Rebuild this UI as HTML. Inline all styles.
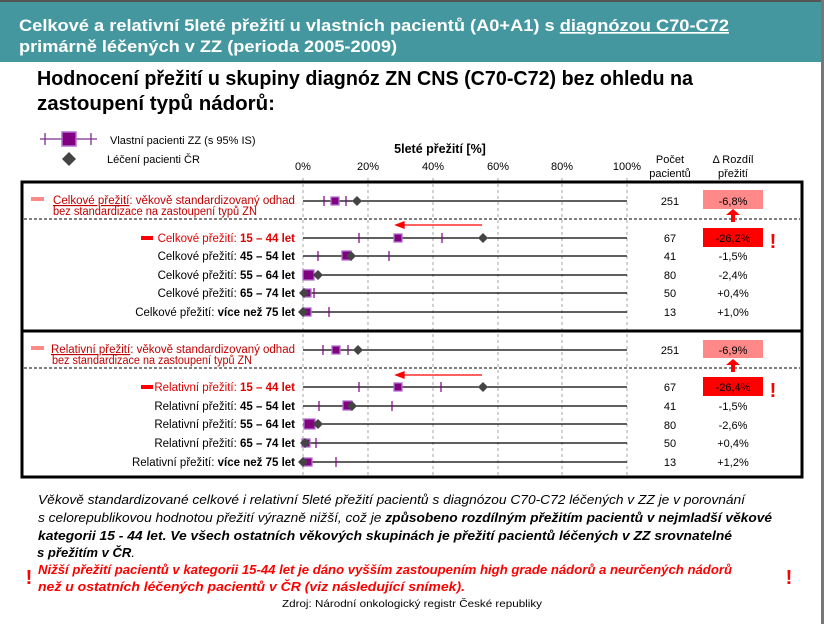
<!DOCTYPE html>
<html><head><meta charset="utf-8"><style>
body{margin:0;background:#fff}
svg{display:block;font-family:"Liberation Sans",sans-serif}
</style></head><body>
<svg width="824" height="624" viewBox="0 0 824 624" xmlns="http://www.w3.org/2000/svg">
<rect x="0" y="0" width="824" height="624" fill="#fff"/>
<rect x="0" y="0" width="824" height="2" fill="#555"/>
<rect x="821" y="0" width="3" height="624" fill="#777"/>
<rect x="0" y="2" width="821" height="60" fill="#45979f"/>
<g fill="#fff" font-weight="bold" font-size="17">
<text x="19" y="31" textLength="710" lengthAdjust="spacingAndGlyphs">Celkové a relativní 5leté přežití u vlastních pacientů (A0+A1) s <tspan text-decoration="underline">diagnózou C70-C72</tspan></text>
<text x="19" y="52" textLength="378" lengthAdjust="spacingAndGlyphs">primárně léčených v ZZ (perioda 2005-2009)</text>
</g>
<g fill="#000" font-weight="bold" font-size="20">
<text x="37" y="85" textLength="656" lengthAdjust="spacingAndGlyphs">Hodnocení přežití u skupiny diagnóz  ZN CNS (C70-C72) bez ohledu na</text>
<text x="37" y="110" textLength="238" lengthAdjust="spacingAndGlyphs">zastoupení typů nádorů:</text>
</g>
<line x1="40" y1="139" x2="97" y2="139" stroke="#7b2d8e" stroke-width="1.3"/>
<line x1="45" y1="133" x2="45" y2="145" stroke="#7b2d8e" stroke-width="1.3"/>
<line x1="91" y1="133" x2="91" y2="145" stroke="#7b2d8e" stroke-width="1.3"/>
<rect x="62" y="132" width="14" height="14" fill="#800080" stroke="#b070d0" stroke-width="1.5"/>
<path d="M69 152 L76 159 L69 166 L62 159Z" fill="#444"/>
<g font-size="11" fill="#000">
<text x="110" y="144">Vlastní pacienti ZZ (s 95% IS)</text>
<text x="107" y="163">Léčení pacienti ČR</text>
</g>
<text x="440" y="153" font-size="12.5" font-weight="bold" text-anchor="middle">5leté přežití [%]</text>
<g font-size="11" text-anchor="middle">
<text x="303" y="170">0%</text><text x="368" y="170">20%</text><text x="433" y="170">40%</text><text x="498" y="170">60%</text><text x="562" y="170">80%</text><text x="627" y="170">100%</text>
<text x="670" y="163">Počet</text><text x="670" y="177">pacientů</text>
<text x="733" y="163">Δ Rozdíl</text><text x="733" y="177">přežití</text>
</g>
<g stroke="#bbb" stroke-width="1.3" stroke-dasharray="3,3">
<line x1="303" y1="178" x2="303" y2="478"/><line x1="368" y1="178" x2="368" y2="478"/><line x1="433" y1="178" x2="433" y2="478"/><line x1="498" y1="178" x2="498" y2="478"/><line x1="562" y1="178" x2="562" y2="478"/><line x1="627" y1="178" x2="627" y2="478"/>
</g>
<rect x="22" y="182" width="780" height="149" fill="none" stroke="#000" stroke-width="3"/>
<rect x="22" y="331" width="780" height="146" fill="none" stroke="#000" stroke-width="3"/>
<g stroke="#000" stroke-width="1" stroke-dasharray="3,2">
<line x1="24" y1="219" x2="800" y2="219"/><line x1="24" y1="368" x2="800" y2="368"/>
</g>
<g stroke="#000" stroke-width="1.2">
<line x1="303" y1="201" x2="627" y2="201"/><line x1="303" y1="238" x2="627" y2="238"/><line x1="303" y1="256" x2="627" y2="256"/><line x1="303" y1="275" x2="627" y2="275"/><line x1="303" y1="293" x2="627" y2="293"/><line x1="303" y1="312" x2="627" y2="312"/>
<line x1="303" y1="350" x2="627" y2="350"/><line x1="303" y1="387" x2="627" y2="387"/><line x1="303" y1="406" x2="627" y2="406"/><line x1="303" y1="424" x2="627" y2="424"/><line x1="303" y1="443" x2="627" y2="443"/><line x1="303" y1="462" x2="627" y2="462"/>
</g>
<g stroke="#f00" stroke-width="1.3" fill="#f00">
<line x1="402" y1="225" x2="482" y2="225"/><path d="M396 225 L404 222 L404 228Z"/>
<line x1="402" y1="375" x2="482" y2="375"/><path d="M396 375 L404 372 L404 378Z"/>
</g>
<g stroke="#800080" stroke-width="1.2">
<line x1="324" y1="196" x2="324" y2="206"/><line x1="346" y1="196" x2="346" y2="206"/>
<line x1="359" y1="233" x2="359" y2="243"/><line x1="442" y1="233" x2="442" y2="243"/>
<line x1="318" y1="251" x2="318" y2="261"/><line x1="389" y1="251" x2="389" y2="261"/>
<line x1="314" y1="288" x2="314" y2="298"/>
<line x1="329" y1="307" x2="329" y2="317"/>
<line x1="323" y1="345" x2="323" y2="355"/><line x1="348" y1="345" x2="348" y2="355"/>
<line x1="359" y1="382" x2="359" y2="392"/><line x1="441" y1="382" x2="441" y2="392"/>
<line x1="319" y1="401" x2="319" y2="411"/><line x1="392" y1="401" x2="392" y2="411"/>
<line x1="316" y1="438" x2="316" y2="448"/>
<line x1="336" y1="457" x2="336" y2="467"/>
</g>
<g fill="#800080" stroke="#b070d0" stroke-width="1.3">
<rect x="331" y="197" width="8" height="8"/><rect x="394" y="234" width="8" height="8"/><rect x="342" y="251" width="9" height="9"/><rect x="303" y="270" width="11" height="10"/><rect x="303" y="289" width="8" height="8"/><rect x="303" y="308" width="8" height="8"/>
<rect x="332" y="346" width="8" height="8"/><rect x="394" y="383" width="8" height="8"/><rect x="343" y="401" width="9" height="9"/><rect x="304" y="419" width="11" height="10"/><rect x="302" y="439" width="8" height="8"/><rect x="304" y="458" width="8" height="8"/>
</g>
<g fill="#444">
<path d="M357 196 L362 201 L357 206 L352 201Z"/><path d="M483 233 L488 238 L483 243 L478 238Z"/><path d="M351 251 L356 256 L351 261 L346 256Z"/><path d="M318 270 L323 275 L318 280 L313 275Z"/><path d="M304 288 L309 293 L304 298 L299 293Z"/><path d="M303 307 L308 312 L303 317 L298 312Z"/>
<path d="M358 345 L363 350 L358 355 L353 350Z"/><path d="M483 382 L488 387 L483 392 L478 387Z"/><path d="M352 401 L357 406 L352 411 L347 406Z"/><path d="M318 419 L323 424 L318 429 L313 424Z"/><path d="M305 438 L310 443 L305 448 L300 443Z"/><path d="M303 457 L308 462 L303 467 L298 462Z"/>
</g>
<rect x="31" y="197" width="13" height="4" fill="#f88"/>
<rect x="31" y="346" width="13" height="4" fill="#f88"/>
<rect x="141" y="236" width="12" height="4" fill="#f00"/>
<rect x="141" y="385" width="12" height="4" fill="#f00"/>
<g font-size="11.5" fill="#c00000">
<text x="53" y="204" textLength="242" lengthAdjust="spacingAndGlyphs"><tspan text-decoration="underline">Celkové přežití</tspan>: věkově standardizovaný odhad</text>
<text x="53" y="215" textLength="204" lengthAdjust="spacingAndGlyphs">bez standardizace na zastoupení typů ZN</text>
<text x="51" y="353" textLength="244" lengthAdjust="spacingAndGlyphs"><tspan text-decoration="underline">Relativní přežití</tspan>: věkově standardizovaný odhad</text>
<text x="52" y="364" textLength="200" lengthAdjust="spacingAndGlyphs">bez standardizace na zastoupení typů ZN</text>
</g>
<g font-size="11.5" text-anchor="end">
<text x="295" y="242" fill="#e00000">Celkové přežití: <tspan font-weight="bold">15 – 44 let</tspan></text>
<text x="295" y="260">Celkové přežití: <tspan font-weight="bold">45 – 54 let</tspan></text>
<text x="295" y="279">Celkové přežití: <tspan font-weight="bold">55 – 64 let</tspan></text>
<text x="295" y="297">Celkové přežití: <tspan font-weight="bold">65 – 74 let</tspan></text>
<text x="295" y="316">Celkové přežití: <tspan font-weight="bold">více než 75 let</tspan></text>
<text x="295" y="391" fill="#e00000">Relativní přežití: <tspan font-weight="bold">15 – 44 let</tspan></text>
<text x="295" y="410">Relativní přežití: <tspan font-weight="bold">45 – 54 let</tspan></text>
<text x="295" y="428">Relativní přežití: <tspan font-weight="bold">55 – 64 let</tspan></text>
<text x="295" y="447">Relativní přežití: <tspan font-weight="bold">65 – 74 let</tspan></text>
<text x="295" y="466">Relativní přežití: <tspan font-weight="bold">více než 75 let</tspan></text>
</g>
<rect x="703" y="190" width="60" height="19" fill="#f88"/>
<rect x="703" y="228" width="60" height="19" fill="#f00"/>
<rect x="703" y="340" width="60" height="18" fill="#f88"/>
<rect x="703" y="377" width="60" height="19" fill="#f00"/>
<g fill="#f00"><rect x="731" y="214" width="4" height="8"/><path d="M726 215 L733 209 L740 215Z"/>
<rect x="731" y="364" width="4" height="8"/><path d="M726 365 L733 359 L740 365Z"/></g>
<g font-size="20" font-weight="bold" fill="#f00" text-anchor="middle"><text x="773" y="248">!</text><text x="773" y="397">!</text></g>
<g font-size="11" text-anchor="middle">
<text x="670" y="205">251</text><text x="733" y="205">-6,8%</text>
<text x="670" y="242">67</text><text x="733" y="242">-26,2%</text>
<text x="670" y="260">41</text><text x="733" y="260">-1,5%</text>
<text x="670" y="279">80</text><text x="733" y="279">-2,4%</text>
<text x="670" y="297">50</text><text x="733" y="297">+0,4%</text>
<text x="670" y="316">13</text><text x="733" y="316">+1,0%</text>
<text x="670" y="354">251</text><text x="733" y="354">-6,9%</text>
<text x="670" y="391">67</text><text x="733" y="391">-26,4%</text>
<text x="670" y="410">41</text><text x="733" y="410">-1,5%</text>
<text x="670" y="429">80</text><text x="733" y="429">-2,6%</text>
<text x="670" y="447">50</text><text x="733" y="447">+0,4%</text>
<text x="670" y="466">13</text><text x="733" y="466">+1,2%</text>
</g>
<g font-size="12.5" font-style="italic" fill="#000">
<text x="38" y="504" textLength="707" lengthAdjust="spacingAndGlyphs">Věkově standardizované celkové i relativní 5leté přežití pacientů s diagnózou C70-C72 léčených v ZZ je v porovnání</text>
<text x="38" y="522" textLength="734" lengthAdjust="spacingAndGlyphs">s celorepublikovou hodnotou přežití výrazně nižší, což je <tspan font-weight="bold">způsobeno rozdílným přežitím pacientů v nejmladší věkové</tspan></text>
<text x="38" y="540" textLength="694" lengthAdjust="spacingAndGlyphs" font-weight="bold">kategorii 15 - 44 let. Ve všech ostatních věkových skupinách je přežití pacientů léčených v ZZ srovnatelné</text>
<text x="37" y="557" textLength="98" lengthAdjust="spacingAndGlyphs"><tspan font-weight="bold">s přežitím v ČR</tspan>.</text>
<g fill="#f00" font-weight="bold">
<text x="38" y="574" textLength="694" lengthAdjust="spacingAndGlyphs">Nižší přežití pacientů v kategorii 15-44 let  je dáno vyšším zastoupením high grade nádorů a neurčených nádorů</text>
<text x="38" y="591" textLength="427" lengthAdjust="spacingAndGlyphs">než u ostatních léčených pacientů v ČR (viz následující snímek).</text>
</g>
</g>
<g font-size="20" font-weight="bold" fill="#f00" text-anchor="middle"><text x="29" y="584">!</text><text x="789" y="584">!</text></g>
<text x="412" y="607" font-size="10.5" text-anchor="middle" textLength="260" lengthAdjust="spacingAndGlyphs">Zdroj: Národní onkologický registr České republiky</text>
</svg>
</body></html>
